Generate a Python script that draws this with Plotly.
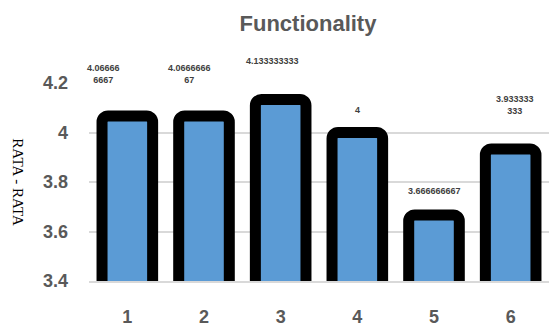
import plotly.graph_objects as go

categories = ["1", "2", "3", "4", "5", "6"]
values = [4.066666667, 4.066666667, 4.133333333, 4.0, 3.666666667, 3.933333333]
label_texts = ["4.06666<br>6667", "4.0666666<br>67", "4.133333333", "4", "3.666666667", "3.933333<br>333"]
y_ticks = [3.4, 3.6, 3.8, 4.0, 4.2]
y_tick_labels = ["3.4", "3.6", "3.8", "4", "4.2"]

fig = go.Figure()
fig.add_trace(go.Bar(
    x=categories, y=values,
    marker=dict(color="#5b9bd5", line=dict(color="#000000", width=11), cornerradius=6),
    width=0.66,
    hoverinfo="skip",
))

label_yshift = [29, 29, 32, 16, 17, 31]
label_xshift = [-24, -15, -8, 0, 0, 4]
for i, (v, t, ys, xs) in enumerate(zip(values, label_texts, label_yshift, label_xshift)):
    fig.add_annotation(x=i, y=v, text=t, showarrow=False, yanchor="bottom",
                       yshift=ys, xshift=xs,
                       font=dict(family="Liberation Sans", size=9, color="#404040", weight="bold"))

fig.add_annotation(text="RATA - RATA", textangle=90, xref="paper", yref="paper",
                   x=-0.155, y=0.5, xanchor="center", yanchor="middle", showarrow=False,
                   font=dict(family="Liberation Serif", size=15, color="#000000"))

fig.update_layout(
    width=549, height=327,
    margin=dict(l=89, r=0, t=83, b=46),
    paper_bgcolor="white", plot_bgcolor="white",
    showlegend=False,
    title=dict(text="Functionality", x=0.561, xanchor="center", y=0.93, yanchor="middle",
               yref="container",
               font=dict(family="Liberation Sans", size=22, color="#595959", weight="bold")),
    xaxis=dict(type="category", range=[-0.5, 5.5], showgrid=False, showline=True,
               linecolor="#d9d9d9", linewidth=2,
               ticks="", ticklabelstandoff=18,
               tickfont=dict(family="Liberation Sans", size=18, color="#595959", weight="bold")),
    yaxis=dict(range=[3.4, 4.2], tickvals=y_ticks, ticktext=y_tick_labels,
               showgrid=True, gridcolor="#d9d9d9", gridwidth=2, zeroline=False,
               ticks="", ticklabelstandoff=20,
               tickfont=dict(family="Liberation Sans", size=18, color="#595959", weight="bold")),
)

fig.write_html("out.html")
